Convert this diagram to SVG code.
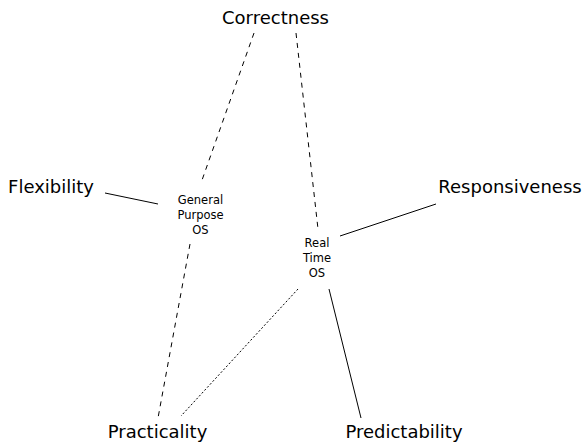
<svg xmlns="http://www.w3.org/2000/svg" width="584" height="443" viewBox="0 0 584 443">
<style>
.big{font-family:"DejaVu Sans",sans-serif;font-size:18px;fill:#000;text-anchor:middle}
.small{font-family:"DejaVu Sans",sans-serif;font-size:11.5px;fill:#000;text-anchor:middle}
.e{stroke:#000;stroke-width:1;fill:none}
.dash{stroke-dasharray:5,5}
.dot{stroke-dasharray:2,2}
</style>
<rect width="584" height="443" fill="#fff"/>
<g id="edges">
<line class="e dash" x1="254" y1="33" x2="201" y2="183"/>
<line class="e dash" x1="296" y1="33" x2="318" y2="229"/>
<line class="e" x1="105" y1="193" x2="158" y2="204"/>
<line class="e dash" x1="190" y1="244" x2="158" y2="418"/>
<line class="e dot" x1="298" y1="289" x2="181" y2="416"/>
<line class="e" x1="436" y1="204" x2="340" y2="236"/>
<line class="e" x1="329" y1="289" x2="361" y2="418"/>
</g>
<g id="correctness"><text class="big" x="275.5" y="24">Correctness</text></g>
<g id="flexibility"><text class="big" x="51" y="193">Flexibility</text></g>
<g id="responsiveness"><text class="big" x="510" y="193">Responsiveness</text></g>
<g id="practicality"><text class="big" x="157.5" y="438">Practicality</text></g>
<g id="predictability"><text class="big" x="404" y="438">Predictability</text></g>
<g id="gpos"><text class="small" x="200.5" y="204"><tspan x="200.5">General</tspan><tspan x="200.5" dy="15">Purpose</tspan><tspan x="200.5" dy="15">OS</tspan></text></g>
<g id="rtos"><text class="small" x="317" y="247"><tspan x="317">Real</tspan><tspan x="317" dy="15">Time</tspan><tspan x="317" dy="15">OS</tspan></text></g>
</svg>
